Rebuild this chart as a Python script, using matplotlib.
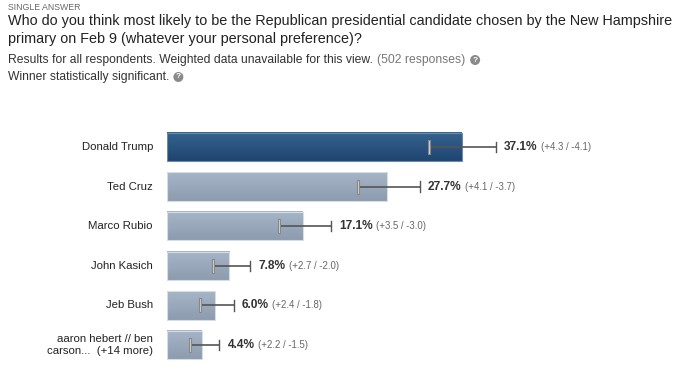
import matplotlib.pyplot as plt
import numpy as np

plt.rcParams['font.family'] = ['Liberation Sans', 'DejaVu Sans']

names = ['Donald Trump', 'Ted Cruz', 'Marco Rubio', 'John Kasich', 'Jeb Bush',
         'aaron hebert // ben\ncarson...  (+14 more)']
pct = [37.1, 27.7, 17.1, 7.8, 6.0, 4.4]
err_up = [4.3, 4.1, 3.5, 2.7, 2.4, 2.2]
err_dn = [4.1, 3.7, 3.0, 2.0, 1.8, 1.5]

W, H = 690, 369
fig = plt.figure(figsize=(W / 100, H / 100), dpi=100)

# header text (pixel positions -> figure fraction)
def ftxt(x, y, s, **kw):
    return fig.text(x / W, 1 - y / H, s, va='center', ha='left', **kw)

ftxt(8, 8, 'SINGLE ANSWER', fontsize=6.3, color='#666666')
ftxt(8, 21, 'Who do you think most likely to be the Republican presidential candidate chosen by the New Hampshire',
     fontsize=10.35, color='#222222')
ftxt(8, 39, 'primary on Feb 9 (whatever your personal preference)?', fontsize=10.35, color='#222222')
t1 = ftxt(8, 60, 'Results for all respondents. Weighted data unavailable for this view.',
          fontsize=8.7, color='#333333')
t2 = ftxt(0, 60, '(502 responses)', fontsize=8.7, color='#777777')
t3 = ftxt(8, 77, 'Winner statistically significant.', fontsize=8.7, color='#333333')

# place "(502 responses)" and the ? icons right after the text
fig.canvas.draw()
r = fig.canvas.get_renderer()
bb1 = t1.get_window_extent(r)
t2.set_position(((bb1.x1 + 4) / W, 1 - 60 / H))
fig.canvas.draw()
bb2 = t2.get_window_extent(r)
bb3 = t3.get_window_extent(r)
for cx, cy in [(bb2.x1 + 10, 60), (bb3.x1 + 9, 77)]:
    fig.text(cx / W, 1 - cy / H, '?', fontsize=6, color='white', fontweight='bold',
             ha='center', va='center',
             bbox=dict(boxstyle='circle,pad=0.18', fc='#8a8a8a', ec='none'))

# bars area
x0, x1 = 167, 690
y_top, y_bot = 127.2, 364.8
ax = fig.add_axes([x0 / W, 1 - y_bot / H, (x1 - x0) / W, (y_bot - y_top) / H])
scale = 7.95  # px per percent
ax.set_xlim(0, (x1 - x0) / scale)
n = len(names)
ax.set_ylim(n - 0.5, -0.5)
ax.axis('off')

bh = 0.72
dark = [(0.21, 0.39, 0.56), (0.12, 0.27, 0.44)]
light = [(0.65, 0.71, 0.78), (0.55, 0.61, 0.68)]
for i, v in enumerate(pct):
    c = dark if i == 0 else light
    grad = np.linspace(0, 1, 50)
    img = np.zeros((50, 1, 3))
    for k in range(3):
        img[:, 0, k] = c[0][k] + (c[1][k] - c[0][k]) * grad
    ax.imshow(img, extent=[0, v, i + bh / 2, i - bh / 2], aspect='auto', zorder=1)
    ax.barh(i, v, height=bh, color='none', edgecolor='#d5dde6' if i else '#6d8aa8', linewidth=0.8, zorder=2)

    lo = v - err_dn[i]
    hi = v + err_up[i]
    ax.plot([lo, hi], [i, i], color='#555555', lw=1.2, zorder=3)
    ax.plot([hi, hi], [i - 0.13, i + 0.13], color='#555555', lw=1.0, zorder=3)
    ax.plot([lo, lo], [i - 0.15, i + 0.15], color='#888888', lw=2.2, zorder=3)
    ax.plot([lo, lo], [i - 0.15, i + 0.15], color='#d8d8d8', lw=0.6, zorder=4)

    tx = ax.annotate(f'{v:.1f}%', xy=(hi, i), xytext=(8, 0), textcoords='offset pixels',
                     va='center', ha='left', fontsize=8.6, fontweight='bold', color='#333333')
    ax.annotate(f'(+{err_up[i]:.1f} / -{err_dn[i]:.1f})', xy=(1, 0.5), xycoords=tx,
                xytext=(3, 0), textcoords='offset pixels',
                va='center', ha='left', fontsize=6.9, color='#666666')

    ax.annotate(names[i], xy=(0, i), xytext=(-14, 0), textcoords='offset pixels',
                va='center', ha='right', fontsize=8.2, color='#222222', linespacing=1.35)

fig.savefig('out.png', dpi=100)
